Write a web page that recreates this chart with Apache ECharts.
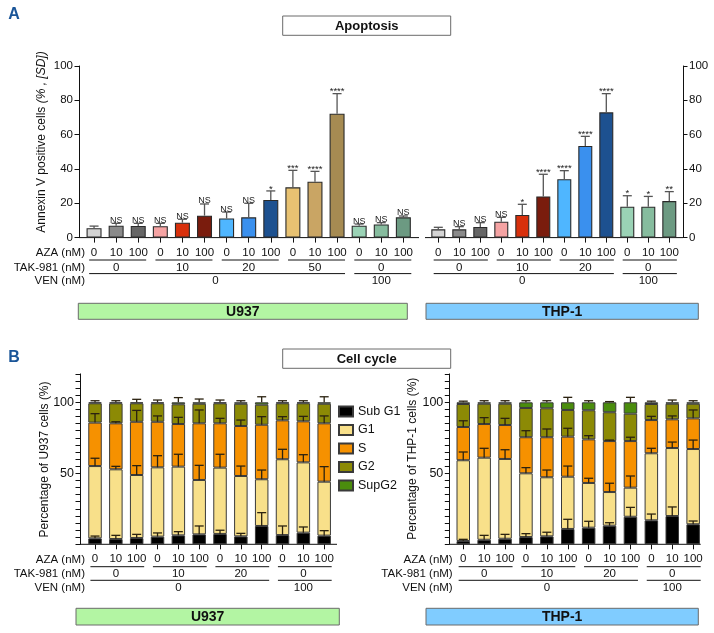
<!DOCTYPE html>
<html><head><meta charset="utf-8">
<script src="https://cdn.jsdelivr.net/npm/echarts@6/dist/echarts.min.js"></script>
<style>html,body{margin:0;padding:0;background:#fff}#c{width:714px;height:633px}</style>
</head><body><div id="c"></div>
<script>
// ---------------- DATA ----------------
// Panel A: apoptosis (Annexin V positive cells %, mean and SD)
const apoU937Aza = ['0','10','100','0','10','100','0','10','100','0','10','100','0','10','100'];
const apoU937Mean = [5.5,6.9,6.8,6.6,8.7,12.8,11.2,11.8,21.9,29.3,32.6,72.2,6.9,7.7,11.8];
const apoU937SD   = [1.2,1.4,1.5,1.7,2.0,6.8,3.7,8.2,5.3,9.9,6.0,11.7,1.0,1.0,0.8];
const apoU937Sig  = ['','NS','NS','NS','NS','NS','NS','NS','*','***','****','****','NS','NS','NS'];
const apoU937Tak  = ['0','10','20','50','0'];
const apoU937Ven  = ['0','100'];
const apoU937VenSpan = [12,3];

const apoTHP1Aza = ['0','10','100','0','10','100','0','10','100','0','10','100'];
const apoTHP1Mean = [4.8,4.8,6.2,9.3,13.2,24.0,34.0,53.4,73.0,18.0,18.0,21.3];
const apoTHP1SD   = [1.2,1.6,2.5,2.5,6.2,12.9,5.0,5.6,10.9,6.4,6.0,5.5];
const apoTHP1Sig  = ['','NS','NS','NS','*','****','****','****','****','*','*','**'];
const apoTHP1Tak  = ['0','10','20','0'];
const apoTHP1Ven  = ['0','100'];
const apoTHP1VenSpan = [9,3];

// Panel B: cell cycle (% of cells per phase, segment values and SD)
const phaseNames = ['Sub G1','G1','S','G2','SupG2'];
const ccAza = ['0','10','100','0','10','100','0','10','100','0','10','100'];
const ccTak = ['0','10','20','0'];
const ccVen = ['0','100'];
const ccVenSpan = [9,3];

const ccU937SubG1 = [4.2,3.7,4.4,5.4,6.3,7.0,7.3,5.6,12.9,6.5,8.2,6.1];
const ccU937G1    = [50.9,49.1,44.4,48.8,48.4,38.3,46.7,42.5,32.9,53.4,49.5,38.0];
const ccU937S     = [30.6,32.4,37.5,32.1,30.0,39.9,31.2,35.2,38.4,27.4,28.9,41.1];
const ccU937G2    = [13.6,14.1,13.0,13.0,13.9,13.8,14.1,15.7,14.1,12.0,12.7,13.8];
const ccU937SupG2 = [0.7,0.7,0.7,0.7,1.4,1.0,0.7,1.0,1.7,0.7,0.7,1.0];
const ccU937SubG1SD = [1.6,2.6,2.6,2.6,2.6,5.9,2.6,2.1,9.4,6.4,4.0,3.5];
const ccU937G1SD    = [5.5,2.1,6.6,8.2,8.7,10.3,9.4,7.0,6.5,7.0,5.4,10.6];
const ccU937SSD     = [6.3,1.1,8.0,4.1,4.7,9.4,3.5,4.2,5.7,2.6,3.5,5.2];
const ccU937TopSD   = [1.1,1.1,2.1,1.6,3.3,2.3,1.6,1.1,3.9,1.1,1.1,3.9];

const ccTHP1SubG1 = [2.3,3.2,3.9,5.1,5.6,10.8,11.7,13.1,19.4,16.9,19.9,14.1];
const ccTHP1G1    = [56.9,57.8,56.2,44.9,41.6,36.8,31.5,23.7,20.5,47.2,47.9,53.0];
const ccTHP1S     = [23.4,23.7,23.9,25.4,28.2,28.2,30.7,35.9,32.8,23.4,20.2,21.6];
const ccTHP1G2    = [16.2,14.3,15.0,20.6,20.4,18.8,20.5,20.3,19.3,11.3,11.0,10.3];
const ccTHP1SupG2 = [1.2,1.0,1.0,4.0,4.2,5.4,5.6,7.0,8.0,1.2,1.0,1.0];
const ccTHP1SubG1SD = [1.2,3.1,3.1,2.4,2.9,6.8,4.5,2.1,6.6,4.4,6.4,2.3];
const ccTHP1G1SD    = [5.8,6.6,6.5,4.0,5.1,7.5,3.3,6.2,8.2,3.5,4.2,6.3];
const ccTHP1SSD     = [4.4,4.5,4.7,4.6,5.8,5.9,2.6,0.7,2.7,2.6,2.4,5.9];
const ccTHP1TopSD   = [0.8,1.1,1.1,1.1,1.1,3.5,1.1,0.5,3.5,0.8,1.6,1.1];

// ---------------- STYLE ----------------
const FONT = '"Liberation Sans", Arial, Helvetica, sans-serif';
const apoU937Palette = ['#d4d4d4','#8a8a8a','#666666','#f5a3a3','#d8300c','#7a1c0d','#4fb6ff','#3a90ee','#1d5190','#e8c272','#c9a564','#a68b52','#9ad2b5','#86bc9e','#6c9a82'];
const apoTHP1Palette = ['#d4d4d4','#8a8a8a','#666666','#f5a3a3','#d8300c','#7a1c0d','#4fb6ff','#3a90ee','#1d5190','#9ad2b5','#86bc9e','#6c9a82'];
const phaseColors = ['#000000','#f8e08a','#f69100','#8c8a05','#4b8d0d'];

const chart = echarts.init(document.getElementById('c'), null, {renderer:'canvas', width:714, height:633});

function xCat(gridIndex, labels){
  return {type:'category', gridIndex, data:labels, boundaryGap:true,
    axisLine:{show:false}, splitLine:{show:false},
    axisTick:{show:true, alignWithLabel:true, length:5, lineStyle:{color:'#111', width:1}},
    axisLabel:{show:true, interval:0, margin:9, fontSize:11.5, color:'#111', fontFamily:FONT}};
}
function yVal(gridIndex, pos, offset, min, max, interval, fmt, fontSize, margin){
  return {type:'value', gridIndex, position:pos, offset, min, max, interval,
    axisLine:{show:true, lineStyle:{color:'#111', width:1}},
    axisTick:{show:true, length:4.5, lineStyle:{color:'#111', width:1}},
    splitLine:{show:false},
    axisLabel:{show:true, margin, fontSize, color:'#111', fontFamily:FONT, formatter:fmt}};
}
function errSeries(xi, yi, data, capW, color, lw, sigs){
  return {type:'custom', xAxisIndex:xi, yAxisIndex:yi, z:6, silent:true, data,
    renderItem(params, api){
      const i = api.value(0), m = api.value(1), s = api.value(2);
      const p0 = api.coord([i, m]), p1 = api.coord([i, m + s]);
      const st = {stroke:color, lineWidth:lw};
      const ch = [
        {type:'line', shape:{x1:p0[0], y1:p0[1], x2:p1[0], y2:p1[1]}, style:st},
        {type:'line', shape:{x1:p1[0]-capW/2, y1:p1[1], x2:p1[0]+capW/2, y2:p1[1]}, style:st}
      ];
      const lab = sigs ? sigs[params.dataIndex] : '';
      if (lab) {
        const isNS = lab === 'NS';
        ch.push({type:'text', x:p1[0], y:p1[1] + (isNS ? 1.5 : 3),
          style:{text:lab, align:'center', verticalAlign:'bottom', fontSize: isNS ? 9 : 9.5,
                 fontFamily:FONT, fill:'#222'}});
      }
      return {type:'group', children:ch};
    }};
}
function apoBars(xi, yi, means, palette, w){
  return {type:'bar', xAxisIndex:xi, yAxisIndex:yi, barWidth:w, z:3,
    data: means.map((v,i)=>({value:v, itemStyle:{color:palette[i]}})),
    itemStyle:{borderColor:'#2a2a2a', borderWidth:1.1}};
}
function ccStack(xi, yi, arrays, stackName){
  return arrays.map((arr,k)=>({type:'bar', name:phaseNames[k], xAxisIndex:xi, yAxisIndex:yi,
    stack:stackName, barWidth:13.5, z:3, data:arr,
    itemStyle:{color:phaseColors[k], borderColor:'#3a3a3a', borderWidth:1}}));
}
function ccErrData(sub,g1,s,g2,sup,sdSub,sdG1,sdS,sdTop){
  const out = [];
  for (let i=0;i<sub.length;i++){
    const t1 = sub[i], t2 = t1 + g1[i], t3 = t2 + s[i], t5 = t3 + g2[i] + sup[i];
    out.push([i,t1,sdSub[i]],[i,t2,sdG1[i]],[i,t3,sdS[i]],[i,t5,sdTop[i]]);
  }
  return out;
}

const ccFmt = v => (v === 50 || v === 100) ? String(v) : '';

const option = {
  animation:false,
  backgroundColor:'#ffffff',
  textStyle:{fontFamily:FONT},
  grid:[
    {left:83, top:66, width:331.4, height:171.6, outerBoundsMode:'none'},
    {left:427.8, top:66, width:252, height:171.6, outerBoundsMode:'none'},
    {left:84.6, top:373.9, width:250, height:170.4, outerBoundsMode:'none'},
    {left:452.8, top:373.9, width:250.8, height:170.4, outerBoundsMode:'none'}
  ],
  xAxis:[ xCat(0, apoU937Aza), xCat(1, apoTHP1Aza), xCat(2, ccAza), xCat(3, ccAza) ],
  yAxis:[
    yVal(0,'left',4,0,100,20,null,11.5,6),
    yVal(1,'right',3.2,0,100,20,null,11.5,6),
    yVal(2,'left',4.6,0,120,5,ccFmt,12.5,6),
    yVal(3,'left',3.5,0,120,5,ccFmt,12.5,6)
  ],
  legend:{show:true, data:phaseNames, orient:'vertical', left:338, top:405, padding:0,
    itemWidth:14, itemHeight:10, itemGap:5.5, selectedMode:false, icon:'rect',
    textStyle:{fontSize:12.5, color:'#111', fontFamily:FONT}},
  series:[
    apoBars(0,0,apoU937Mean,apoU937Palette,15),
    errSeries(0,0,apoU937Mean.map((m,i)=>[i,m,apoU937SD[i]]),9,'#555',1.3,apoU937Sig),
    apoBars(1,1,apoTHP1Mean,apoTHP1Palette,14),
    errSeries(1,1,apoTHP1Mean.map((m,i)=>[i,m,apoTHP1SD[i]]),9,'#555',1.3,apoTHP1Sig),
    ...ccStack(2,2,[ccU937SubG1,ccU937G1,ccU937S,ccU937G2,ccU937SupG2],'u'),
    errSeries(2,2,ccErrData(ccU937SubG1,ccU937G1,ccU937S,ccU937G2,ccU937SupG2,ccU937SubG1SD,ccU937G1SD,ccU937SSD,ccU937TopSD),9,'#2b2210',1.3,null),
    ...ccStack(3,3,[ccTHP1SubG1,ccTHP1G1,ccTHP1S,ccTHP1G2,ccTHP1SupG2],'t'),
    errSeries(3,3,ccErrData(ccTHP1SubG1,ccTHP1G1,ccTHP1S,ccTHP1G2,ccTHP1SupG2,ccTHP1SubG1SD,ccTHP1G1SD,ccTHP1SSD,ccTHP1TopSD),9,'#2b2210',1.3,null)
  ]
};
chart.setOption(option);

// ---------------- ANNOTATIONS (positions derived from axes) ----------------
const px = (xi, idx) => chart.convertToPixel({xAxisIndex:xi}, idx);
const py = (yi, v) => chart.convertToPixel({yAxisIndex:yi}, v);
const G = [];
function hline(x1, x2, y, w){ G.push({type:'line', silent:true, shape:{x1, y1:y, x2, y2:y}, style:{stroke:'#111', lineWidth:w||1}}); }
function txt(t, x, y, align, size, weight, color, rot){
  G.push({type:'text', silent:true, x, y, rotation:rot||0,
    style:{text:t, align:align||'center', verticalAlign:'middle', fontSize:size||11.5,
           fontWeight:weight||'normal', fontFamily:FONT, fill:color||'#111'}});
}
function box(x, y, w, h, fill, label, size){
  G.push({type:'rect', silent:true, shape:{x, y, width:w, height:h}, style:{fill, stroke:'#6b6b6b', lineWidth:1}});
  txt(label, x + w/2, y + h/2 + 0.5, 'center', size, 'bold', '#111');
}
function rowBlock(xi, yi, tak, ven, venSpan, xStart, xEnd, titleRight){
  const base = py(yi, 0);
  const band = px(xi,1) - px(xi,0);
  hline(xStart, xEnd, base, 1);
  tak.forEach((lab,k)=>{
    const a = k*3, b = a+2;
    hline(px(xi,a) - 0.22*band, px(xi,b) + 0.36*band, base + 22.4, 1);
    txt(lab, (px(xi,a) + px(xi,b))/2, base + 29.8);
  });
  let s = 0;
  ven.forEach((lab,k)=>{
    const a = s, b = s + venSpan[k] - 1;
    hline(px(xi,a) - 0.22*band, px(xi,b) + 0.36*band, base + 36, 1);
    txt(lab, (px(xi,a) + px(xi,b))/2, base + 43.3);
    s += venSpan[k];
  });
  if (titleRight) {
    txt('AZA (nM)', titleRight, base + 15.7, 'right');
    txt('TAK-981 (nM)', titleRight, base + 29.8, 'right');
    txt('VEN (nM)', titleRight, base + 43.3, 'right');
  }
}
rowBlock(0,0,apoU937Tak,apoU937Ven,apoU937VenSpan,79,419,85);
rowBlock(1,1,apoTHP1Tak,apoTHP1Ven,apoTHP1VenSpan,425,683,null);
rowBlock(2,2,ccTak,ccVen,ccVenSpan,80,337,85);
rowBlock(3,3,ccTak,ccVen,ccVenSpan,449.3,700.7,452.7);

// panel letters and titles
txt('A', 14, 14.5, 'center', 16, 'bold', '#1a5598');
txt('B', 14, 357.5, 'center', 16, 'bold', '#1a5598');
box(282.7, 16, 168, 19.3, '#ffffff', 'Apoptosis', 13);
box(282.7, 349, 168, 19.3, '#ffffff', 'Cell cycle', 13);
box(78.3, 303.3, 329, 16, '#b3f5a3', 'U937', 14);
box(426, 303.3, 272.3, 16, '#80ccff', 'THP-1', 14);
box(76, 608.3, 263.3, 16.7, '#b3f5a3', 'U937', 14);
box(426, 608.3, 272.3, 16.7, '#80ccff', 'THP-1', 14);

// y-axis titles (rotated)
G.push({type:'text', silent:true, x:42, y:142, rotation:Math.PI/2,
  style:{text:'{a|Annexin V positive cells }{b|(% , [SD])}', align:'center', verticalAlign:'middle',
    rich:{a:{fontSize:12, fontFamily:FONT, fill:'#111'}, b:{fontSize:12, fontFamily:FONT, fontStyle:'italic', fill:'#111'}}}});
txt('Percentage of U937 cells (%)', 45, 459.5, 'center', 12, 'normal', '#111', Math.PI/2);
txt('Percentage of THP-1 cells (%)', 413, 458.7, 'center', 12, 'normal', '#111', Math.PI/2);

chart.setOption({graphic:{elements:G}});
</script>
</body></html>
